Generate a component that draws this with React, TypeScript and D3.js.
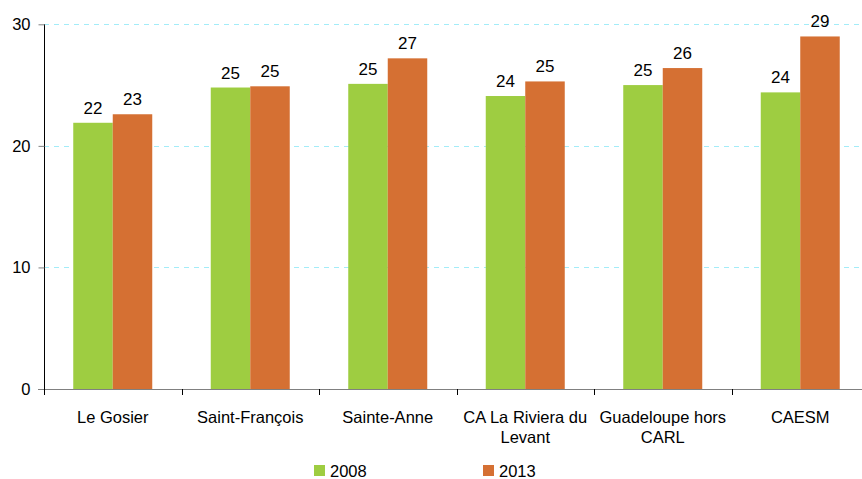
import React, { useEffect, useRef } from 'react';
import * as d3 from 'd3';

const categories = [
  'Le Gosier',
  'Saint-François',
  'Sainte-Anne',
  'CA La Riviera du\nLevant',
  'Guadeloupe hors\nCARL',
  'CAESM',
];
const seriesNames = ['2008', '2013'];
const values2008 = [21.9, 24.8, 25.1, 24.1, 25.0, 24.4];
const values2013 = [22.6, 24.9, 27.2, 25.3, 26.4, 29.0];
const yTicks = [0, 10, 20, 30];
const colors = ['#9ecd41', '#d57033'];

const W = 862;
const H = 479;
const FONT = '"Liberation Sans", Arial, sans-serif';

export default function App() {
  const ref = useRef<SVGSVGElement>(null);

  useEffect(() => {
    const svg = d3.select(ref.current);
    svg.selectAll('*').remove();

    const left = 44;
    const right = 869; // the plot runs past the right edge, as in the source
    const top = 24.3;
    const bottom = 389;

    const x = d3.scaleBand().domain(categories).range([left, right]).padding(0);
    const inner = d3
      .scaleBand()
      .domain(seriesNames)
      .range([0, 79])
      .padding(0);
    const y = d3.scaleLinear().domain([0, 30]).range([bottom, top]);

    const rows = categories.map((c, i) => ({
      cat: c,
      vals: [values2008[i], values2013[i]],
    }));

    // gridlines
    svg
      .append('g')
      .selectAll('line')
      .data(yTicks)
      .enter()
      .append('line')
      .attr('x1', left)
      .attr('x2', W)
      .attr('y1', d => Math.round(y(d)) + 0.5)
      .attr('y2', d => Math.round(y(d)) + 0.5)
      .attr('stroke', '#a3ecf8')
      .attr('stroke-dasharray', '5,5');

    /* ------- BARS -------*/
    const groups = svg
      .append('g')
      .selectAll('g')
      .data(rows)
      .enter()
      .append('g')
      .attr('transform', d => `translate(${x(d.cat)! + (x.bandwidth() - 79) / 2},0)`);

    groups
      .selectAll('rect')
      .data(d => d.vals.map((v, i) => ({ key: seriesNames[i], v, i })))
      .enter()
      .append('rect')
      .attr('x', d => inner(d.key)!)
      .attr('width', inner.bandwidth())
      .attr('y', d => y(d.v))
      .attr('height', d => bottom - y(d.v))
      .attr('fill', d => colors[d.i]);

    groups
      .selectAll('text')
      .data(d => d.vals.map((v, i) => ({ key: seriesNames[i], v })))
      .enter()
      .append('text')
      .attr('x', d => inner(d.key)! + inner.bandwidth() / 2)
      .attr('y', d => y(d.v) - 9)
      .attr('text-anchor', 'middle')
      .attr('font-family', FONT)
      .attr('font-size', 17)
      .attr('fill', '#000')
      .text(d => d3.format('.0f')(d.v));

    /* ------- Y AXIS -------*/
    const yAxis = svg
      .append('g')
      .attr('transform', `translate(${left + 0.5},0)`)
      .call(
        d3
          .axisLeft(y)
          .tickValues(yTicks)
          .tickSize(6)
          .tickPadding(8)
          .tickFormat(d3.format('d'))
      );
    yAxis.select('.domain').attr('stroke', '#000').attr('d', `M0,${top}V${bottom}`);
    yAxis.selectAll('.tick line').attr('stroke', '#808080');
    yAxis
      .selectAll('.tick text')
      .attr('font-family', FONT)
      .attr('font-size', 16.5)
      .attr('fill', '#000');

    /* ------- X AXIS -------*/
    svg
      .append('line')
      .attr('x1', left - 6)
      .attr('x2', W)
      .attr('y1', bottom + 0.5)
      .attr('y2', bottom + 0.5)
      .attr('stroke', '#808080');

    const boundaries = categories.map(c => x(c)!).concat([right]);
    svg
      .append('g')
      .selectAll('line')
      .data(boundaries)
      .enter()
      .append('line')
      .attr('x1', d => Math.round(d) + 0.5)
      .attr('x2', d => Math.round(d) + 0.5)
      .attr('y1', bottom)
      .attr('y2', bottom + 6)
      .attr('stroke', '#000');

    const labels = svg
      .append('g')
      .selectAll('text')
      .data(categories)
      .enter()
      .append('text')
      .attr('text-anchor', 'middle')
      .attr('font-family', FONT)
      .attr('font-size', 16.5)
      .attr('fill', '#000')
      .attr('transform', d => `translate(${x(d)! + x.bandwidth() / 2},${bottom + 34})`);

    labels
      .selectAll('tspan')
      .data(d => d.split('\n'))
      .enter()
      .append('tspan')
      .attr('x', 0)
      .attr('dy', (d, i) => (i === 0 ? 0 : 20))
      .text(d => d);

    /* ------- LEGEND -------*/
    const legendX = [314, 483];
    const legend = svg
      .append('g')
      .selectAll('g')
      .data(seriesNames)
      .enter()
      .append('g')
      .attr('transform', (d, i) => `translate(${legendX[i]},465)`);

    legend
      .append('rect')
      .attr('width', 11)
      .attr('height', 11)
      .attr('fill', (d, i) => colors[i]);

    legend
      .append('text')
      .attr('x', 16)
      .attr('y', 11.5)
      .attr('font-family', FONT)
      .attr('font-size', 16.5)
      .attr('fill', '#000')
      .text(d => d);
  }, []);

  return (
    <svg
      ref={ref}
      width={W}
      height={H}
      style={{ position: 'absolute', left: 0, top: 0, background: '#fff' }}
    />
  );
}
